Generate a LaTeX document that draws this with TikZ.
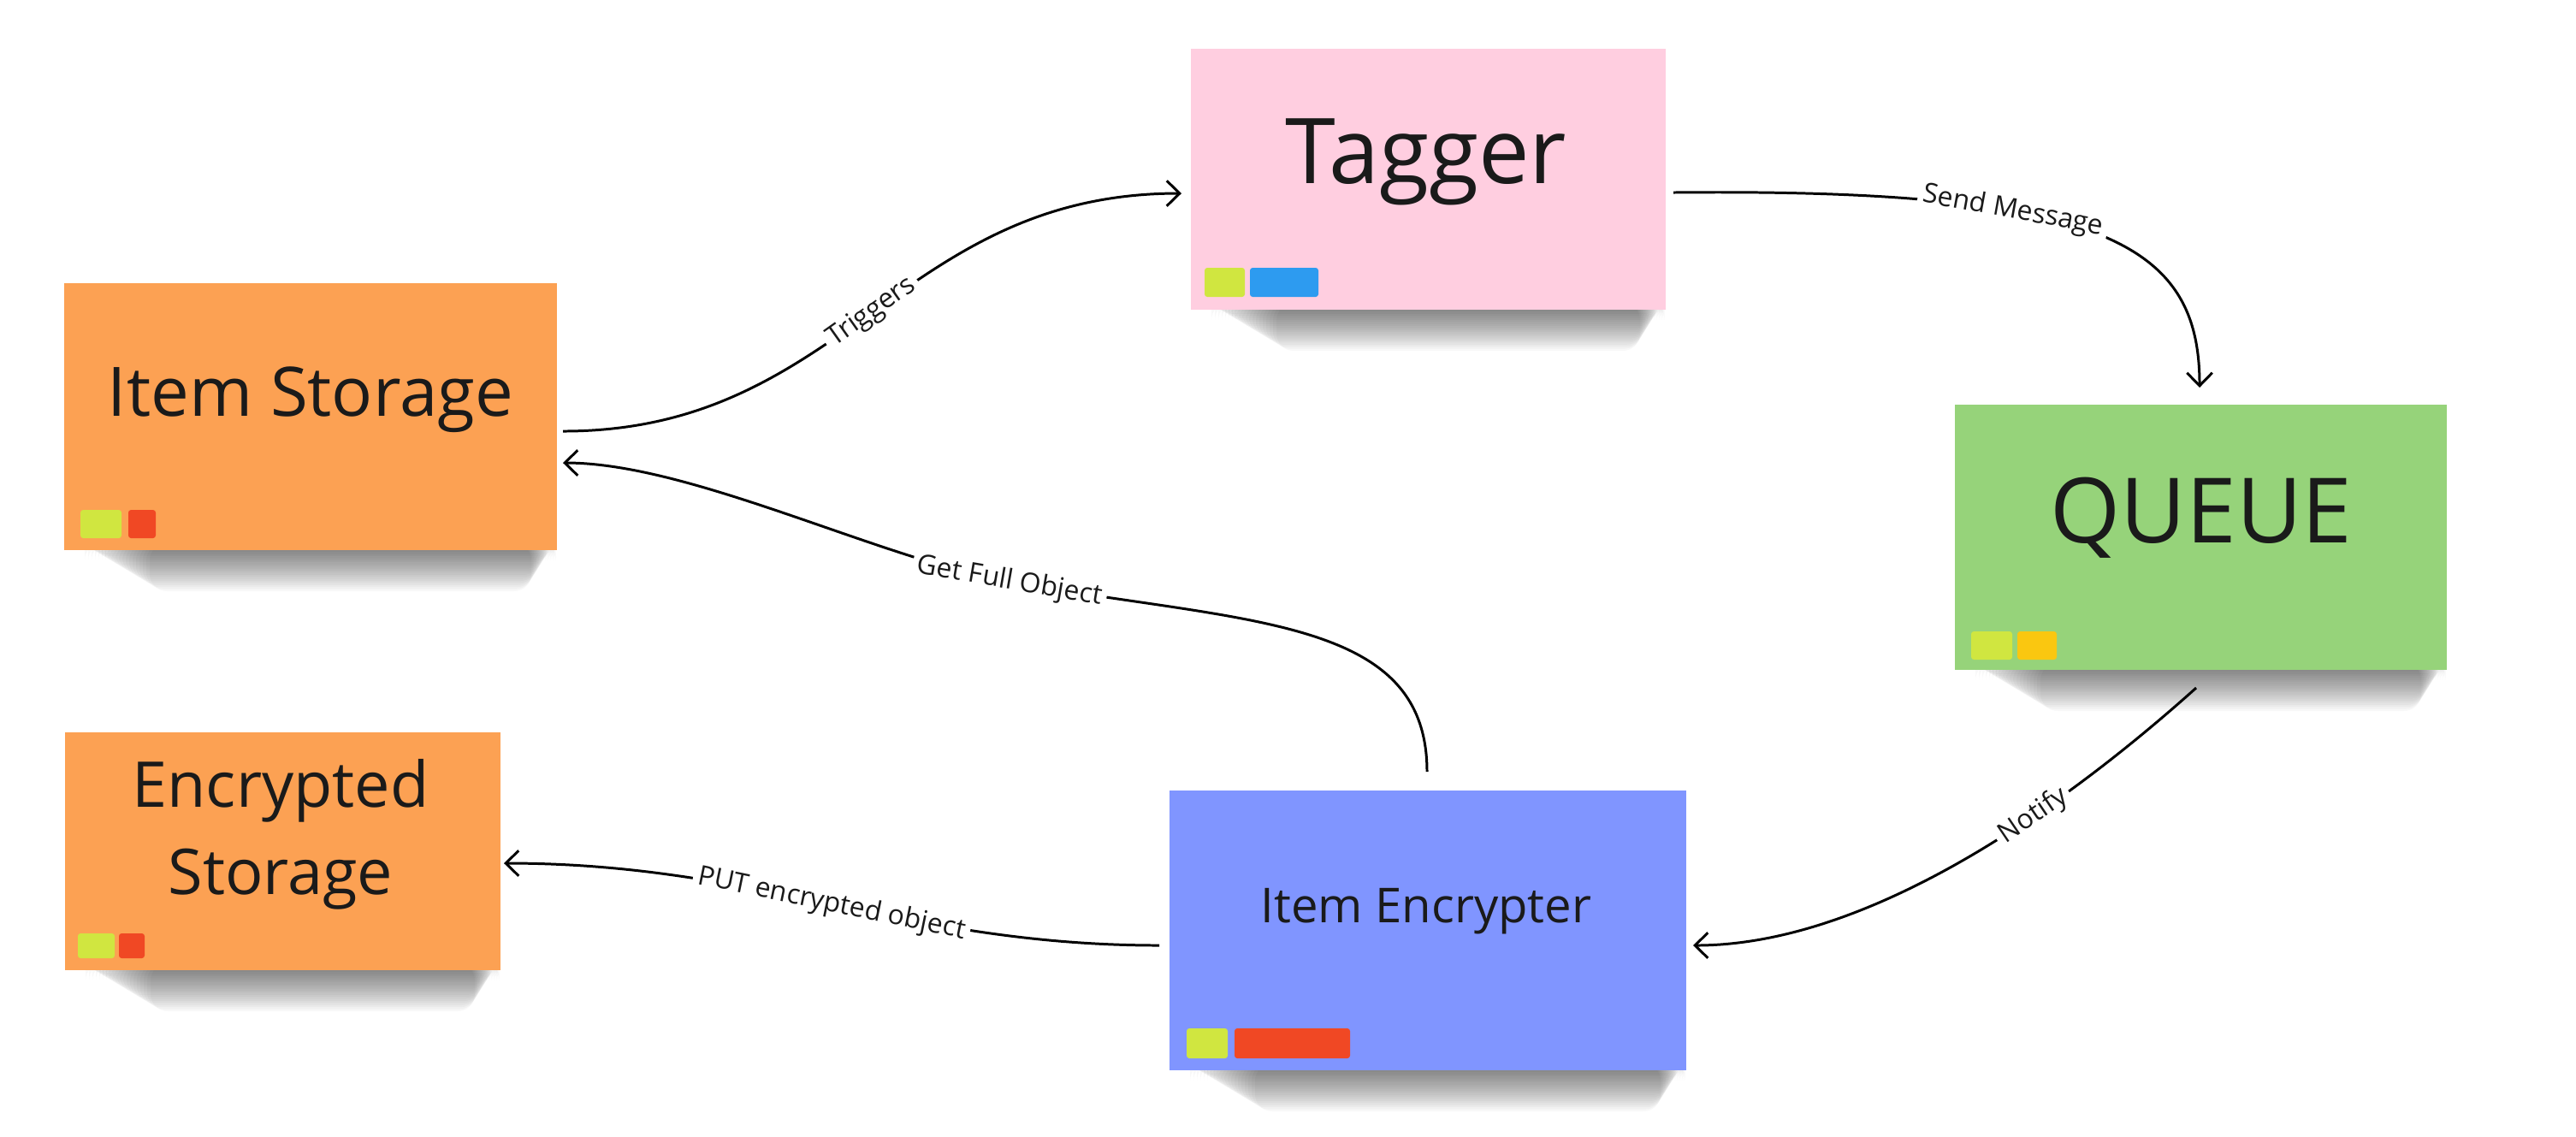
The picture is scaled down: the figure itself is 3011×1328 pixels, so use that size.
\documentclass[tikz,border=0pt]{standalone}
\usepackage{fontspec}
\setmainfont{Open Sans}
\usetikzlibrary{arrows.meta,backgrounds}
\definecolor{cOrange}{RGB}{252,161,83}
\definecolor{cPink}{RGB}{255,206,224}
\definecolor{cGreen}{RGB}{150,211,122}
\definecolor{cBlue}{RGB}{128,149,255}
\definecolor{cLime}{RGB}{208,230,64}
\definecolor{cRed}{RGB}{240,72,36}
\definecolor{cSky}{RGB}{45,155,240}
\definecolor{cYellow}{RGB}{250,199,16}
\definecolor{cText}{RGB}{26,26,26}
\newcommand\noteshadow[1]{%
  \foreach \k in {1,...,20}{%
    \fill[black, opacity=0.026, rounded corners=2mm]
      ([shift={(20+4*\k,-8)}]#1.south west) rectangle ([shift={(-1.5*\k,2.4*\k)}]#1.south east);
  }}
\begin{document}
\begin{tikzpicture}[x=0.1mm,y=-0.1mm,
  note/.style={draw=none, inner sep=0pt, outer sep=0pt},
  title/.style={anchor=base, text=cText, inner sep=0pt},
  link/.style={draw=black, line width=0.85pt,
    -{Straight Barb[length=4.3pt,width=8.4pt,line width=0.85pt]}},
  lbl/.style={fill=white, inner sep=1.6pt, text=cText, sloped,
    font=\fontsize{9.1}{11}\selectfont},
  tag/.style={rounded corners=0.9pt}]
\useasboundingbox (0,0) rectangle (3011,1328);

% sticky notes
\node[note, fill=cOrange, minimum width=57.6mm, minimum height=31.2mm] (store) at (363,487) {};
\node[note, fill=cPink, minimum width=55.5mm, minimum height=30.5mm] (tagger) at (1669.5,209.5) {};
\node[note, fill=cGreen, minimum width=57.5mm, minimum height=31mm] (queue) at (2572.5,628) {};
\node[note, fill=cOrange, minimum width=50.9mm, minimum height=27.8mm] (es) at (330.5,995) {};
\node[note, fill=cBlue, minimum width=60.4mm, minimum height=32.7mm] (enc) at (1669,1087.5) {};

\begin{scope}[on background layer]
  \fill[white] (0,0) rectangle (3011,1328);
  \noteshadow{store}
  \noteshadow{tagger}
  \noteshadow{queue}
  \noteshadow{es}
  \noteshadow{enc}
\end{scope}

% titles
\node[title, font=\fontsize{22.7}{27}\selectfont] (storeT) at (363,486) {Item Storage};
\node[title, font=\fontsize{30.2}{36}\selectfont] (taggerT) at (1667,214) {Tagger};
\node[title, font=\fontsize{30}{36}\selectfont] (queueT) at (2573,634) {QUEUE};
\node[title, font=\fontsize{21}{25}\selectfont] (esT1) at (328,943) {Encrypted};
\node[title, font=\fontsize{21}{25}\selectfont] (esT2) at (328,1045) {Storage};
\node[title, font=\fontsize{16}{19}\selectfont] (encT) at (1667,1078) {Item Encrypter};

% tags
\fill[tag, cLime] (94,596) rectangle (142,629);
\fill[tag, cRed] (150,596) rectangle (182,629);
\fill[tag, cLime] (1408,313) rectangle (1455,347);
\fill[tag, cSky] (1461,313) rectangle (1541,347);
\fill[tag, cLime] (2304,738) rectangle (2352,771);
\fill[tag, cYellow] (2358,738) rectangle (2404,771);
\fill[tag, cLime] (91,1091) rectangle (134,1120);
\fill[tag, cRed] (139,1091) rectangle (169,1120);
\fill[tag, cLime] (1387,1202) rectangle (1435,1237);
\fill[tag, cRed] (1443,1202) rectangle (1578,1237);

% connectors
\draw[link] ([shift={(7,17)}]store.east) .. controls (988,504) and (1050,226) ..
  node[lbl, pos=0.5] (lTrig) {Triggers} ([shift={(-11,16.5)}]tagger.west);
\draw[link] ([shift={(9,15.5)}]tagger.east) .. controls (2460,220) and (2571,285) ..
  node[lbl, pos=0.35] (lSend) {Send Message} ([shift={(-1.5,-20)}]queue.north);
\draw[link] ([shift={(-5.5,21)}]queue.south) .. controls (2403,951) and (2180,1105) ..
  node[lbl, pos=0.35] (lNotify) {Notify} ([shift={(8,17.5)}]enc.east);
\draw[link] ([shift={(-1,-22)}]enc.north) .. controls (1668,720) and (1456,729) .. (1180,680)
  .. controls (1030,654) and (808,541) ..
  node[lbl, pos=0] (lGet) {Get Full Object} ([shift={(7,54)}]store.east);
\draw[link] ([shift={(-12,17.5)}]enc.west) .. controls (1055,1105) and (889,1009) ..
  node[lbl, pos=0.5] (lPut) {PUT encrypted object} ([shift={(4,14)}]es.east);
\end{tikzpicture}
\end{document}
